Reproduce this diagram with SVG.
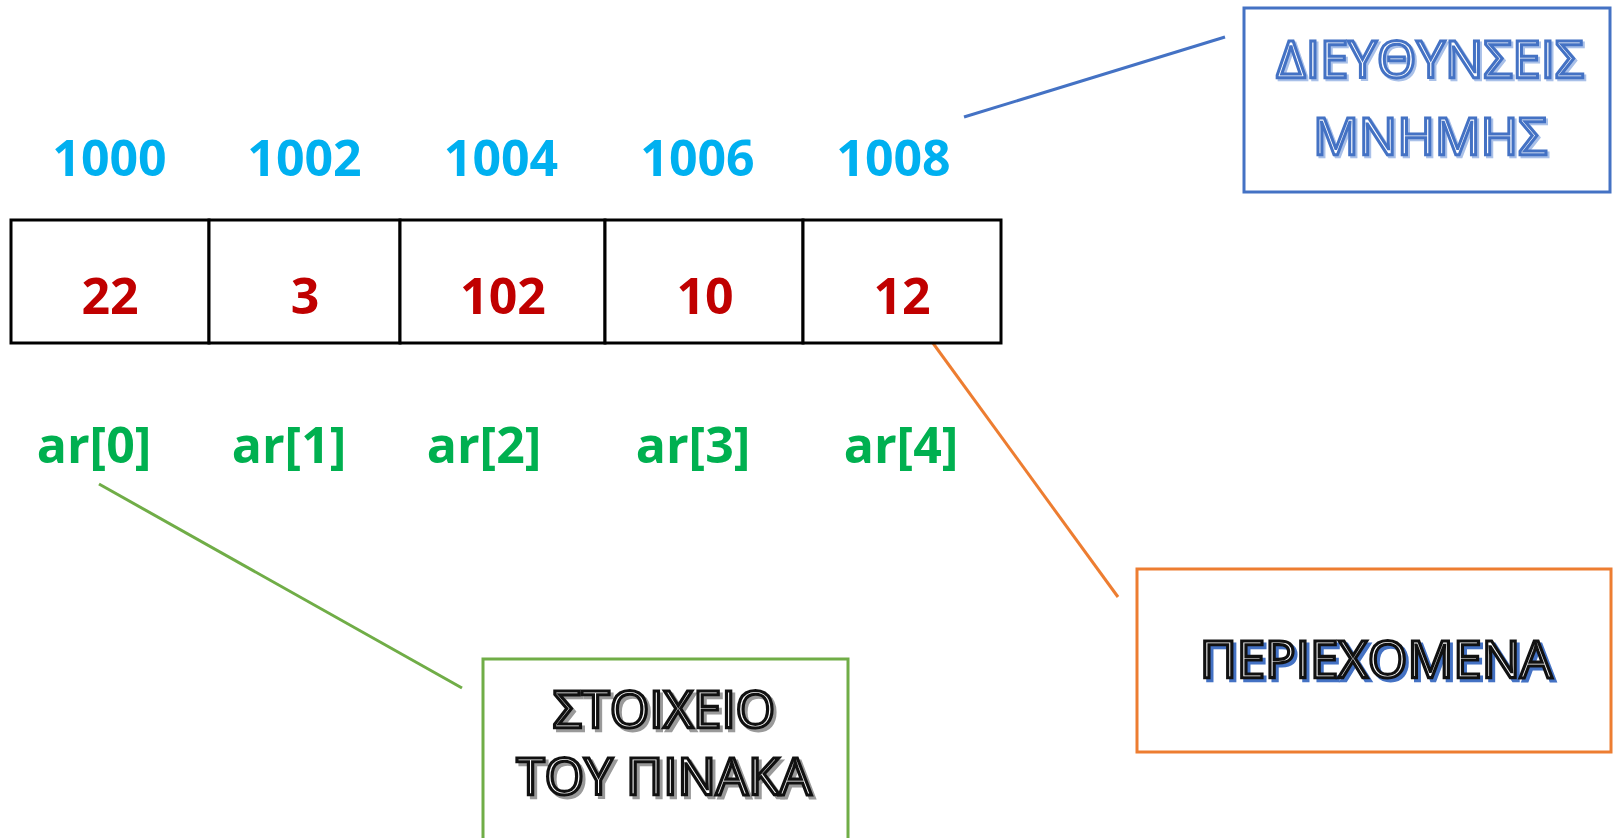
<svg xmlns="http://www.w3.org/2000/svg" width="1614" height="838" viewBox="0 0 1614 838">
<style>
.num{font-family:"Open Sans","Noto Sans",sans-serif;font-weight:700;font-size:50px;text-anchor:middle}
.addr{fill:#00B0F0}
.val{fill:#C00000}
.idx{fill:#00B050}
.cell{fill:#FFFFFF;stroke:#000000;stroke-width:3}
.lbl{font-family:"Open Sans","Noto Sans",sans-serif;font-weight:400;font-size:51px;text-anchor:middle}
.blueTxt{fill:#FFFFFF;stroke:#4472C4;stroke-width:3}
.blueSh{fill:#A9C0E8;stroke:#A9C0E8;stroke-width:3}
.blackTxt{fill:#FFFFFF;stroke:#111111;stroke-width:3.2}
.blackShBlue{fill:#4472C4;stroke:#4472C4;stroke-width:3}
.blackShGray{fill:#9A9A9A;stroke:#9A9A9A;stroke-width:3}
.box{fill:#FFFFFF;stroke-width:3}
.conn{fill:none;stroke-width:3}
</style>
<rect width="1614" height="838" fill="#FFFFFF"/>
<g id="connectors">
<line class="conn" x1="964" y1="117" x2="1225" y2="37" stroke="#4472C4"/>
<line class="conn" x1="911" y1="313" x2="1118" y2="597" stroke="#ED7D31"/>
<line class="conn" x1="99" y1="484" x2="462" y2="688" stroke="#70AD47"/>
</g>
<g id="addresses">
<text class="num addr" x="109.5" y="176">1000</text>
<text class="num addr" x="304.5" y="176">1002</text>
<text class="num addr" x="501" y="176">1004</text>
<text class="num addr" x="697.5" y="176">1006</text>
<text class="num addr" x="893.5" y="176">1008</text>
</g>
<g id="cell0"><rect class="cell" x="11" y="220" width="198" height="123"/><text class="num val" x="110" y="314">22</text></g>
<g id="cell1"><rect class="cell" x="209" y="220" width="191" height="123"/><text class="num val" x="305" y="314">3</text></g>
<g id="cell2"><rect class="cell" x="400" y="220" width="205" height="123"/><text class="num val" x="503" y="314">102</text></g>
<g id="cell3"><rect class="cell" x="605" y="220" width="198" height="123"/><text class="num val" x="705" y="314">10</text></g>
<g id="cell4"><rect class="cell" x="803" y="220" width="198" height="123"/><text class="num val" x="902" y="314">12</text></g>
<g id="indices">
<text class="num idx" x="94" y="463">ar[0]</text>
<text class="num idx" x="289" y="463">ar[1]</text>
<text class="num idx" x="484" y="463">ar[2]</text>
<text class="num idx" x="693" y="463">ar[3]</text>
<text class="num idx" x="901" y="463">ar[4]</text>
</g>
<g id="addr-label">
<rect class="box" x="1244" y="8" width="366" height="184" stroke="#4472C4"/>
<text class="lbl blueSh" x="1432" y="80">ΔΙΕΥΘΥΝΣΕΙΣ</text>
<text class="lbl blueSh" x="1432" y="157">ΜΝΗΜΗΣ</text>
<text class="lbl blueTxt" x="1430" y="78">ΔΙΕΥΘΥΝΣΕΙΣ</text>
<text class="lbl blueTxt" x="1430" y="155">ΜΝΗΜΗΣ</text>
</g>
<g id="content-label">
<rect class="box" x="1137" y="569" width="474" height="183" stroke="#ED7D31"/>
<text class="lbl blackShBlue" x="1379" y="681">ΠΕΡΙΕΧΟΜΕΝΑ</text>
<text class="lbl blackTxt" x="1376" y="678">ΠΕΡΙΕΧΟΜΕΝΑ</text>
</g>
<g id="element-label">
<rect class="box" x="483" y="659" width="365" height="190" stroke="#70AD47"/>
<text class="lbl blackShGray" x="667" y="731">ΣΤΟΙΧΕΙΟ</text>
<text class="lbl blackShGray" x="667" y="798">ΤΟΥ ΠΙΝΑΚΑ</text>
<text class="lbl blackTxt" x="664" y="728">ΣΤΟΙΧΕΙΟ</text>
<text class="lbl blackTxt" x="664" y="795">ΤΟΥ ΠΙΝΑΚΑ</text>
</g>
</svg>
